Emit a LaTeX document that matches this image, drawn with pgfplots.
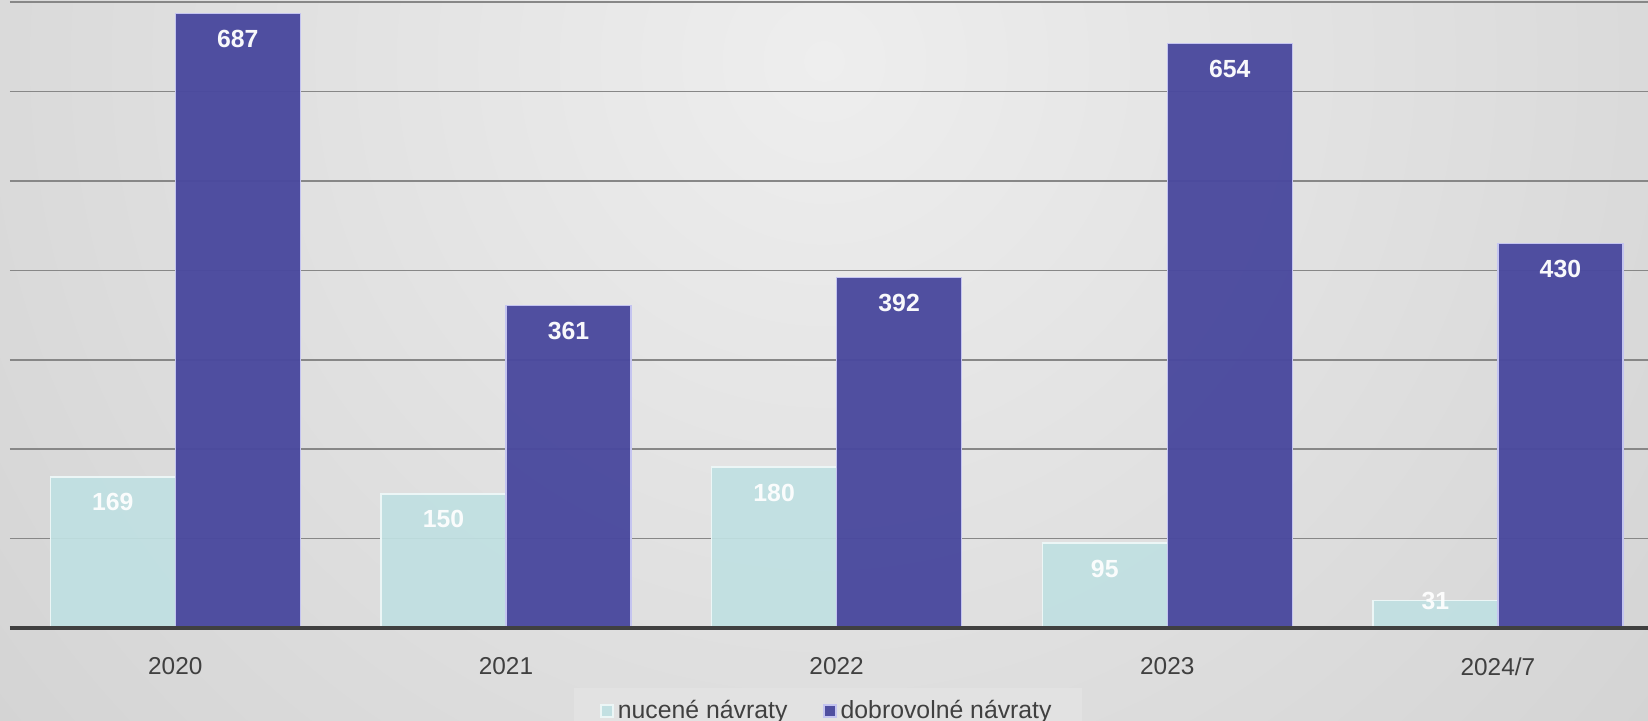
\documentclass[border=0pt]{standalone}
\usepackage{fontspec}
\setmainfont{Liberation Sans}
\usepackage{pgfplots}
\pgfplotsset{compat=1.18}
\definecolor{lightbar}{RGB}{192,224,226}
\definecolor{darkbar}{RGB}{74,73,158}
\definecolor{lightedge}{RGB}{236,246,246}
\definecolor{darkedge}{RGB}{196,196,240}
\definecolor{gridc}{RGB}{135,135,135}
\definecolor{axisc}{RGB}{64,64,64}
\definecolor{textc}{RGB}{64,64,64}
\definecolor{bgin}{RGB}{238,238,238}
\definecolor{bgout}{RGB}{184,184,184}
\definecolor{legbg}{RGB}{226,226,226}
\begin{document}
\begin{tikzpicture}
\useasboundingbox (0,0) rectangle (824pt,360.5pt);
\begin{scope}
\clip (0,0) rectangle (824pt,360.5pt);
\shade[inner color=bgin, outer color=bgout] (412pt,330pt) circle (1100pt);
\end{scope}
\begin{axis}[
  at={(5pt,46.5pt)}, anchor=south west,
  scale only axis, width=819pt, height=312.9pt,
  xmin=-0.5, xmax=4.454, ymin=0, ymax=700,
  enlargelimits=false, clip=false,
  axis line style={draw=none},
  tick style={draw=none},
  xtick={0,1,2,3,4},
  xticklabels={2020,2021,2022,2023,2024/7},
  x tick label style={anchor=center, yshift=-15pt, font=\fontsize{12.2}{14}\selectfont, text=textc},
  ytick={100,200,300,400,500,600,700},
  yticklabels={},
  ymajorgrids,
  major grid style={draw=gridc, line width=0.85pt},
  /pgf/number format/assume math mode=true,
  ybar, bar width=62.5pt,
  nodes near coords,
  every node near coord/.append style={anchor=center, yshift=-12.75pt, text=white, font=\bfseries\fontsize{12.4}{14}\selectfont},
  legend columns=2,
  legend style={at={(0.4994,-0.0959)}, anchor=north, fill=legbg, draw=none,
    font=\fontsize{12.4}{14}\selectfont, text=textc,
    inner xsep=13pt, inner ysep=4pt,
    /tikz/every even column/.append style={column sep=16pt}},
  legend image code/.code={\draw[#1] (0pt,-3pt) rectangle (6pt,3pt);},
]
\addplot[bar shift=-31.25pt, fill=lightbar, fill opacity=0.92, draw=lightedge, line width=0.7pt,
  coordinate style/.condition={meta<50}{yshift=12.25pt}]
  coordinates {(0,169) (1,150) (2,180) (3,95) (4,31)};
\addlegendentry{nucené návraty}
\addplot[bar shift=31.25pt, fill=darkbar, fill opacity=0.96, draw=darkedge, line width=0.6pt]
  coordinates {(0,687) (1,361) (2,392) (3,654) (4,430)};
\addlegendentry{dobrovolné návraty}
\draw[axisc, line width=2pt] (rel axis cs:0,0) -- (rel axis cs:1,0);
\end{axis}
\end{tikzpicture}
\end{document}
